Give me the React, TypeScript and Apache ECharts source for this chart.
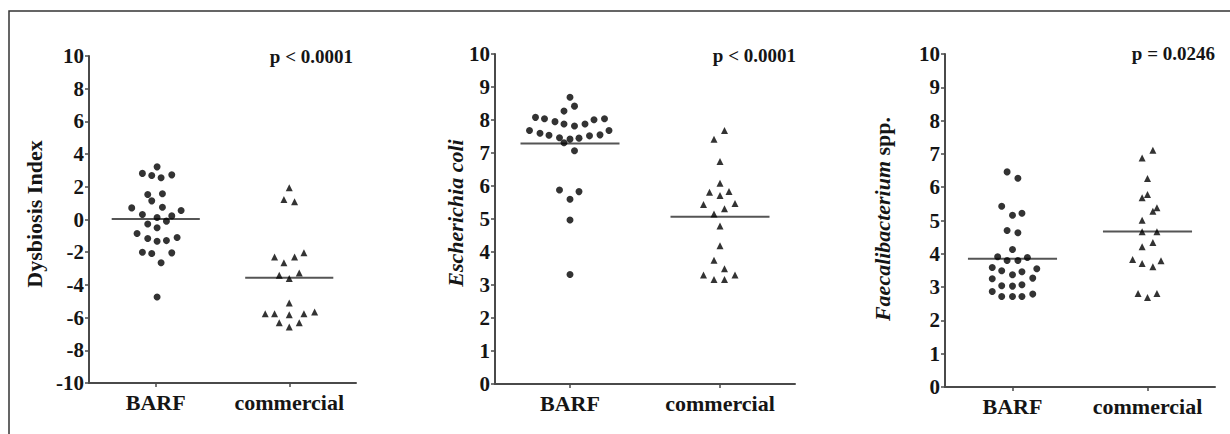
import React, { useEffect, useRef } from "react";
import * as echarts from "echarts";

const CATEGORIES = ["BARF", "commercial"];

// Panel 1: Dysbiosis Index
const DYS_BARF = [3.22, 2.82, 2.69, 2.55, 2.73, 1.53, 1.57, 1.14, 0.71, 0.75, 0.55, 0.31, 0.12, 0.22, -0.27, -0.1, -0.51, -0.86, -1.16, -1.33, -1.29, -1.1, -2.0, -2.08, -2.04, -2.65, -4.74];
const DYS_BARF_X = [0.01, -0.1, -0.03, 0.04, 0.12, -0.06, 0.05, -0.03, -0.18, 0.05, 0.19, -0.1, 0.01, 0.12, -0.06, 0.08, 0.01, -0.14, -0.06, 0.01, 0.08, 0.16, -0.1, -0.03, 0.12, 0.04, 0.01];
const DYS_COM = [1.94, 1.22, 1.08, -2.29, -2.64, -2.29, -2.04, -3.41, -3.61, -3.27, -5.1, -5.76, -5.76, -5.82, -5.76, -5.66, -6.31, -6.31, -6.57];
const DYS_COM_X = [0, -0.04, 0.04, -0.11, -0.04, 0.04, 0.11, -0.075, 0, 0.075, 0, -0.18, -0.11, 0, 0.11, 0.19, -0.075, 0.075, 0];
const DYS_MEDIANS = [0.03, -3.57];

// Panel 2: Escherichia coli
const ECOLI_BARF = [8.69, 8.42, 8.27, 8.08, 8.04, 7.95, 7.88, 7.82, 7.88, 8.01, 8.04, 7.68, 7.6, 7.54, 7.46, 7.42, 7.45, 7.52, 7.55, 7.68, 7.31, 7.07, 5.88, 5.83, 5.6, 4.97, 3.32];
const ECOLI_BARF_X = [0, 0.03, -0.04, -0.23, -0.17, -0.1, -0.04, 0.03, 0.1, 0.16, 0.23, -0.27, -0.2, -0.14, -0.07, 0, 0.06, 0.13, 0.2, 0.26, -0.04, 0.03, -0.07, 0.06, 0, 0, 0];
const ECOLI_COM = [7.68, 7.42, 6.74, 6.08, 5.81, 5.83, 5.71, 5.44, 5.47, 5.31, 5.15, 4.79, 4.19, 3.75, 3.49, 3.3, 3.17, 3.17, 3.3];
const ECOLI_COM_X = [0.03, -0.04, 0, 0, -0.07, 0.06, 0, -0.11, 0.1, 0.03, -0.04, 0, 0, -0.04, 0.03, -0.11, -0.04, 0.03, 0.1];
const ECOLI_MEDIANS = [7.29, 5.07];

// Panel 3: Faecalibacterium spp.
const FAEC_BARF = [6.46, 6.27, 5.43, 5.16, 5.22, 4.7, 4.63, 4.13, 3.91, 3.8, 3.8, 3.89, 3.59, 3.49, 3.46, 3.55, 3.37, 3.25, 3.27, 3.04, 3.03, 3.07, 2.87, 2.72, 2.72, 2.72, 2.79];
const FAEC_BARF_X = [-0.04, 0.04, -0.08, 0, 0.07, -0.04, 0.04, 0, -0.11, -0.04, 0.04, 0.11, -0.15, -0.08, 0.07, 0.18, 0, -0.15, 0.15, -0.08, 0, 0.07, -0.15, -0.08, 0, 0.07, 0.15];
const FAEC_COM = [7.11, 6.88, 6.26, 5.78, 5.68, 5.38, 5.28, 5.01, 4.66, 4.66, 4.21, 4.34, 3.83, 3.71, 3.79, 3.61, 2.81, 2.69, 2.81];
const FAEC_COM_X = [0.04, -0.04, 0, 0, -0.04, 0.07, 0.04, -0.04, -0.04, 0.07, -0.04, 0.04, -0.11, -0.04, 0.1, 0.04, -0.07, 0, 0.07];
const FAEC_MEDIANS = [3.85, 4.67];

const P_VALUES = ["p < 0.0001", "p < 0.0001", "p = 0.0246"];
const Y_MIN = [-10, 0, 0];
const Y_MAX = [10, 10, 10];
const Y_INTERVAL = [2, 1, 1];

const FONT = "Liberation Serif";
const AXIS_COLOR = "#4a4a4a";
const TEXT_COLOR = "#151515";

const PANELS = [
  { barf: DYS_BARF, barfX: DYS_BARF_X, com: DYS_COM, comX: DYS_COM_X, med: DYS_MEDIANS },
  { barf: ECOLI_BARF, barfX: ECOLI_BARF_X, com: ECOLI_COM, comX: ECOLI_COM_X, med: ECOLI_MEDIANS },
  { barf: FAEC_BARF, barfX: FAEC_BARF_X, com: FAEC_COM, comX: FAEC_COM_X, med: FAEC_MEDIANS },
];

const GRIDS = [
  { left: 89, top: 56, width: 267, height: 327 },
  { left: 495, top: 54, width: 300, height: 330 },
  { left: 945, top: 54, width: 270, height: 333 },
];

const MEDIAN_HALF = 0.33;

export default function App() {
  const ref = useRef<HTMLDivElement>(null);

  useEffect(() => {
    if (!ref.current) return;
    const chart = echarts.init(ref.current, undefined, { renderer: "svg" });

    const grid: any[] = [];
    const xAxis: any[] = [];
    const yAxis: any[] = [];
    const series: any[] = [];

    const labelText = {
      color: TEXT_COLOR,
      fontFamily: FONT,
      fontWeight: "bold" as const,
      fontStyle: "normal" as const,
    };

    PANELS.forEach((p, i) => {
      grid.push({ ...GRIDS[i], containLabel: false });
      xAxis.push({
        type: "category",
        gridIndex: i,
        data: CATEGORIES,
        boundaryGap: true,
        axisLine: { show: true, onZero: false, lineStyle: { color: AXIS_COLOR, width: 2 } },
        axisTick: { show: true, alignWithLabel: true, length: 4, lineStyle: { color: AXIS_COLOR, width: 1.5 } },
        axisLabel: { ...labelText, interval: 0, fontSize: 22, margin: 8 },
        splitLine: { show: false },
      });
      xAxis.push({
        type: "value",
        gridIndex: i,
        min: -0.5,
        max: 1.5,
        show: false,
        axisLine: { onZero: false },
      });
      yAxis.push({
        type: "value",
        gridIndex: i,
        min: Y_MIN[i],
        max: Y_MAX[i],
        interval: Y_INTERVAL[i],
        axisLine: { show: true, onZero: false, lineStyle: { color: AXIS_COLOR, width: 2 } },
        axisTick: { show: true, length: 4, lineStyle: { color: AXIS_COLOR, width: 1.5 } },
        axisLabel: { ...labelText, fontSize: 21, margin: 5 },
        splitLine: { show: false },
      });
      const xIdx = i * 2 + 1;
      series.push({
        type: "scatter",
        xAxisIndex: xIdx,
        yAxisIndex: i,
        symbol: "circle",
        symbolSize: 7,
        itemStyle: { color: "#000" },
        data: p.barf.map((v, k) => [0 + p.barfX[k], v]),
      });
      series.push({
        type: "scatter",
        xAxisIndex: xIdx,
        yAxisIndex: i,
        symbol: "triangle",
        symbolSize: 7,
        itemStyle: { color: "#000" },
        data: p.com.map((v, k) => [1 + p.comX[k], v]),
      });
      p.med.forEach((m, c) => {
        series.push({
          type: "line",
          xAxisIndex: xIdx,
          yAxisIndex: i,
          symbol: "none",
          lineStyle: { color: "#555", width: 2 },
          data: [
            [c - MEDIAN_HALF, m],
            [c + MEDIAN_HALF, m],
          ],
          z: 1,
        });
      });
    });

    const titleStyle = {
      fill: TEXT_COLOR,
      fontFamily: FONT,
      fontWeight: "bold",
      fontSize: 22,
      align: "center",
      verticalAlign: "middle",
    };
    const pStyle = {
      fill: TEXT_COLOR,
      fontFamily: FONT,
      fontWeight: "bold",
      fontSize: 19,
      align: "right",
      verticalAlign: "middle",
    };

    const graphic: any[] = [
      {
        type: "polyline",
        shape: { points: [[9, 434], [9, 11], [1230, 11]] },
        style: { stroke: "#333", lineWidth: 1.5, fill: null },
      },
      { type: "text", x: 34, y: 214, rotation: Math.PI / 2, style: { ...titleStyle, text: "Dysbiosis Index" } },
      {
        type: "text",
        x: 455,
        y: 213,
        rotation: Math.PI / 2,
        style: { ...titleStyle, fontStyle: "italic", text: "Escherichia coli" },
      },
      {
        type: "text",
        x: 882,
        y: 219,
        rotation: Math.PI / 2,
        style: {
          ...titleStyle,
          text: "{i|Faecalibacterium} spp.",
          rich: { i: { fontStyle: "italic", fontWeight: "bold", fontSize: 22, fontFamily: FONT, fill: TEXT_COLOR } },
        },
      },
      { type: "text", x: 353, y: 56, style: { ...pStyle, text: P_VALUES[0] } },
      { type: "text", x: 796, y: 55, style: { ...pStyle, text: P_VALUES[1] } },
      { type: "text", x: 1215, y: 53, style: { ...pStyle, text: P_VALUES[2] } },
    ];

    chart.setOption({
      animation: false,
      backgroundColor: "#fff",
      textStyle: { fontFamily: FONT, fontWeight: "bold" },
      grid,
      xAxis,
      yAxis,
      series,
      graphic,
    });

    return () => chart.dispose();
  }, []);

  return (
    <div
      ref={ref}
      style={{ position: "fixed", left: 0, top: 0, width: 1230, height: 434, background: "#fff" }}
    />
  );
}
